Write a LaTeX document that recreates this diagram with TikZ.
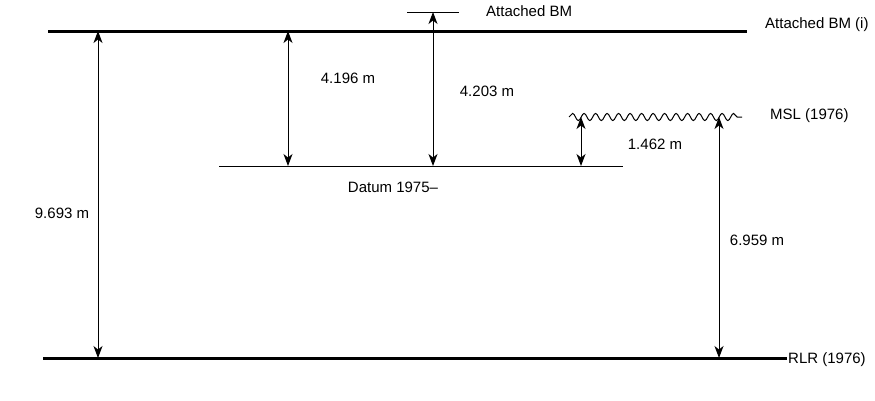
\documentclass[tikz,border=0pt]{standalone}
\usepackage{fontspec}
\setmainfont{Liberation Sans}
\usetikzlibrary{arrows.meta,decorations.pathmorphing}
\begin{document}
\begin{tikzpicture}[x=1pt,y=-1pt,
  level/.style={line width=3pt},
  thinlevel/.style={line width=1pt},
  dim/.style={line width=1pt,{Stealth[length=12pt,width=9pt,inset=3.5pt]}-{Stealth[length=12pt,width=9pt,inset=3.5pt]}},
  lbl/.style={font=\fontsize{15}{18}\selectfont,inner sep=0pt}]
\useasboundingbox (0,0) rectangle (875,400);
% levels
\coordinate (bmL) at (48,31); \coordinate (bmR) at (747,31);
\coordinate (rlrL) at (43,358); \coordinate (rlrR) at (787,358);
\coordinate (abL) at (407,12); \coordinate (abR) at (459,12);
\coordinate (dtL) at (219,166); \coordinate (dtR) at (623,166);
\coordinate (mslL) at (569,117); \coordinate (mslR) at (742,117);
\draw[level] (bmL) -- (bmR);
\draw[level] (rlrL) -- (rlrR);
\draw[thinlevel] (abL) -- (abR);
\draw[thinlevel] (dtL) -- (dtR);
\draw[thinlevel,decorate,decoration={snake,segment length=11.5pt,amplitude=3.6pt}] (mslL) -- (mslR);
% labels
\node[lbl,anchor=west] (tBMi) at (765,25) {Attached BM (i)};
\node[lbl,anchor=west] (tBM) at (486,11) {Attached BM};
\node[lbl,anchor=west] (tRLR) at (788,360) {RLR (1976)};
\node[lbl,anchor=west] (tMSL) at (770,116) {MSL (1976)};
\node[lbl] (tDatum) at (393,187) {Datum 1975--};
% dimension arrows
\coordinate (a1t) at (98,31); \coordinate (a1b) at (98,358);
\coordinate (a2t) at (288,31); \coordinate (a2b) at (288,166);
\coordinate (a3t) at (433,12); \coordinate (a3b) at (433,166);
\coordinate (a4t) at (581,117); \coordinate (a4b) at (581,166);
\coordinate (a5t) at (719,117); \coordinate (a5b) at (719,358);
\draw[dim] (a1t) -- (a1b);
\draw[dim] (a2t) -- (a2b);
\draw[dim] (a3t) -- (a3b);
\draw[dim] (a4t) -- (a4b);
\draw[dim] (a5t) -- (a5b);
\node[lbl] (d1) at (62,213) {9.693 m};
\node[lbl] (d2) at (348,78) {4.196 m};
\node[lbl] (d3) at (487,91) {4.203 m};
\node[lbl] (d4) at (655,144) {1.462 m};
\node[lbl] (d5) at (757,240) {6.959 m};
\end{tikzpicture}
\end{document}
